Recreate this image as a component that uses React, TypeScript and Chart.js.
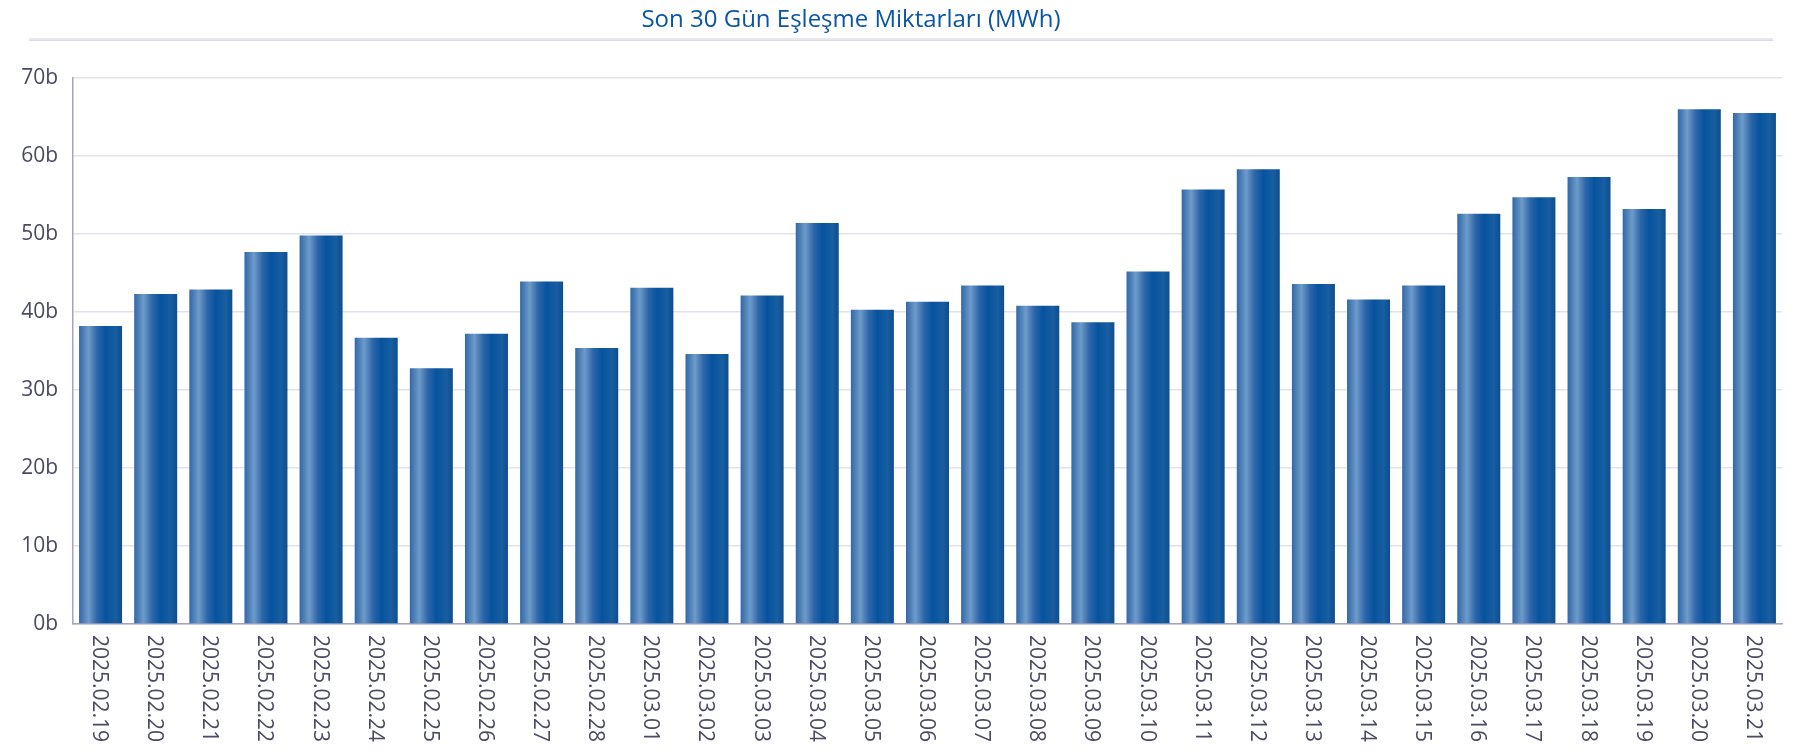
import React, { useEffect, useRef } from "react";
import { Chart, registerables } from "chart.js";

Chart.register(...registerables);

const TITLE = "Son 30 Gün Eşleşme Miktarları (MWh)";

const dates: string[] = [
  "2025.02.19", "2025.02.20", "2025.02.21", "2025.02.22", "2025.02.23",
  "2025.02.24", "2025.02.25", "2025.02.26", "2025.02.27", "2025.02.28",
  "2025.03.01", "2025.03.02", "2025.03.03", "2025.03.04", "2025.03.05",
  "2025.03.06", "2025.03.07", "2025.03.08", "2025.03.09", "2025.03.10",
  "2025.03.11", "2025.03.12", "2025.03.13", "2025.03.14", "2025.03.15",
  "2025.03.16", "2025.03.17", "2025.03.18", "2025.03.19", "2025.03.20",
  "2025.03.21",
];

// Matched quantities in MWh
const matched: number[] = [
  38200, 42300, 42900, 47700, 49800,
  36700, 32800, 37200, 43900, 35400,
  43100, 34600, 42100, 51400, 40300,
  41300, 43400, 40800, 38700, 45200,
  55700, 58300, 43600, 41600, 43400,
  52600, 54700, 57300, 53200, 66000,
  65500,
];

const yTicks: number[] = [0, 10000, 20000, 30000, 40000, 50000, 60000, 70000];

const BAR_PCT = 0.78;

const titlePlugin = {
  id: "customTitle",
  afterDraw(chart: any) {
    const ctx = chart.ctx;
    ctx.save();
    ctx.font = "24px 'Open Sans'";
    ctx.fillStyle = "#0b56a4";
    ctx.textAlign = "center";
    ctx.textBaseline = "alphabetic";
    ctx.fillText(TITLE, 851, 27);
    ctx.fillStyle = "#e8e8ee";
    ctx.fillRect(29, 38, 1744, 1.5);
    ctx.fillStyle = "#dadae2";
    ctx.fillRect(29, 39.5, 1744, 1.5);
    ctx.restore();
  },
};

const xLabelPlugin = {
  id: "rotLabels",
  afterDraw(chart: any) {
    const ctx = chart.ctx;
    const xs = chart.scales.x;
    const bottom = chart.chartArea.bottom;
    ctx.save();
    ctx.font = "21px 'Open Sans'";
    ctx.fillStyle = "#4a4b62";
    ctx.textAlign = "left";
    ctx.textBaseline = "middle";
    dates.forEach((d, i) => {
      const x = xs.getPixelForValue(i);
      ctx.save();
      ctx.translate(x - 1.5, bottom + 11);
      ctx.rotate(Math.PI / 2);
      ctx.fillText(d, 0, 0);
      ctx.restore();
    });
    ctx.restore();
  },
};

function barGradient(c: any) {
  const chart = c.chart;
  const xs = chart.scales?.x;
  if (!xs || !chart.chartArea) return "#1a5ea3";
  const x = xs.getPixelForValue(c.dataIndex);
  const w = (xs.width / dates.length) * BAR_PCT;
  const g = chart.ctx.createLinearGradient(x - w / 2, 0, x + w / 2, 0);
  g.addColorStop(0, "#3068a8");
  g.addColorStop(0.22, "#6e9bc9");
  g.addColorStop(0.42, "#2d66a8");
  g.addColorStop(0.62, "#05539f");
  g.addColorStop(0.85, "#185ea0");
  g.addColorStop(1, "#0d4e90");
  return g;
}

export default function App() {
  const ref = useRef<HTMLCanvasElement>(null);
  useEffect(() => {
    if (!ref.current) return;
    const chart = new Chart(ref.current, {
      type: "bar",
      data: {
        labels: dates,
        datasets: [
          {
            label: "Eşleşme",
            data: matched,
            backgroundColor: barGradient as any,
            borderWidth: 0,
            barPercentage: BAR_PCT,
            categoryPercentage: 1,
          },
        ],
      },
      options: {
        animation: false,
        responsive: true,
        maintainAspectRatio: false,
        layout: { padding: { top: 78, right: 14, left: 0, bottom: 0 } },
        plugins: {
          legend: { display: false },
          title: { display: false },
          tooltip: { enabled: false },
        },
        scales: {
          x: {
            grid: { display: false, drawTicks: false },
            border: { display: true, color: "#a3a3c2", width: 1.5 },
            ticks: { display: false },
            afterFit(scale: any) {
              scale.height = 128;
            },
          },
          y: {
            min: 0,
            max: 70000,
            afterBuildTicks(scale: any) {
              scale.ticks = yTicks.map((v) => ({ value: v }));
            },
            grid: { color: "#e2e2ec", lineWidth: 1.5, drawTicks: false },
            border: { display: true, color: "#a3a3c2", width: 1.5 },
            ticks: {
              padding: 15,
              color: "#4a4b62",
              font: { family: "'Open Sans'", size: 21 },
              callback: (v: any) => `${Number(v) / 1000}b`,
            },
            afterFit(scale: any) {
              scale.width = 73;
            },
          },
        },
      },
      plugins: [titlePlugin, xLabelPlugin],
    });
    return () => chart.destroy();
  }, []);
  return (
    <div style={{ position: "absolute", left: 0, top: 0, width: 1796, height: 752, background: "#fff" }}>
      <canvas ref={ref} />
    </div>
  );
}
